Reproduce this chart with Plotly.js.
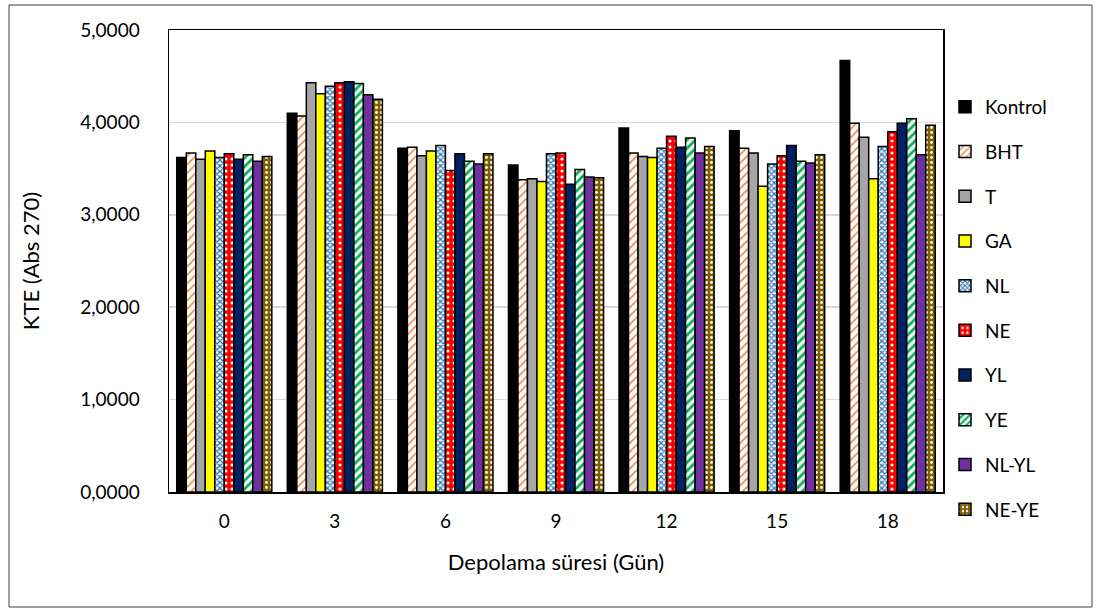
<!DOCTYPE html>
<html>
<head>
<meta charset="utf-8">
<script src="https://cdn.plot.ly/plotly-3.0.1.min.js"></script>
<style>html,body{margin:0;padding:0;background:#fff;}#chart{width:1103px;height:614px;}</style>
</head>
<body>
<div id="chart"></div>
<script>
const categories = ["0", "3", "6", "9", "12", "15", "18"];
const seriesNames = ["Kontrol", "BHT", "T", "GA", "NL", "NE", "YL", "YE", "NL-YL", "NE-YE"];
const kontrol = [3.62, 4.10, 3.72, 3.54, 3.94, 3.91, 4.67];
const bht     = [3.67, 4.07, 3.73, 3.38, 3.67, 3.72, 3.99];
const t       = [3.60, 4.43, 3.64, 3.39, 3.63, 3.67, 3.84];
const ga      = [3.69, 4.31, 3.69, 3.36, 3.62, 3.31, 3.39];
const nl      = [3.62, 4.39, 3.75, 3.66, 3.72, 3.55, 3.74];
const ne      = [3.66, 4.43, 3.48, 3.67, 3.85, 3.64, 3.90];
const yl      = [3.60, 4.44, 3.66, 3.33, 3.73, 3.75, 3.99];
const ye      = [3.65, 4.42, 3.58, 3.49, 3.83, 3.58, 4.04];
const nlyl    = [3.58, 4.30, 3.55, 3.41, 3.67, 3.56, 3.65];
const neye    = [3.63, 4.25, 3.66, 3.40, 3.74, 3.65, 3.97];
const yTicks = [0, 1, 2, 3, 4, 5];

const seriesValues = [kontrol, bht, t, ga, nl, ne, yl, ye, nlyl, neye];
const styles = [
  {color: "#000000"},
  {color: "#FFFFFF", pattern: {shape: "/", fgcolor: "#F08A4B", bgcolor: "#FFFFFF", size: 6, solidity: 0.3}},
  {color: "#A6A6A6"},
  {color: "#FFFF00"},
  {color: "#FFFFFF", pattern: {shape: "x", fgcolor: "#2E75B6", bgcolor: "#FFFFFF", size: 4, solidity: 0.55}},
  {color: "#FF0000", pattern: {shape: ".", fgcolor: "#FFFFFF", bgcolor: "#FF0000", size: 6, solidity: 0.2}},
  {color: "#002060"},
  {color: "#FFFFFF", pattern: {shape: "/", fgcolor: "#00B050", bgcolor: "#FFFFFF", size: 6, solidity: 0.45}},
  {color: "#7030A0"},
  {color: "#7F6000", pattern: {shape: ".", fgcolor: "#FFFFFF", bgcolor: "#7F6000", size: 5, solidity: 0.25}}
];

const traces = seriesNames.map((name, i) => {
  const m = {color: styles[i].color, line: {color: "#000000", width: 1.5}};
  if (styles[i].pattern) m.pattern = styles[i].pattern;
  return {
    type: "bar",
    name: name,
    x: categories,
    y: seriesValues[i],
    marker: m,
    legendgroup: "g" + i
  };
});

const font = "Lato, 'Noto Sans', 'DejaVu Sans', sans-serif";
const L = 169, R = 943, T = 30, B = 492;
const pw = R - L, ph = B - T;

const layout = {
  width: 1103, height: 614,
  margin: {l: L, r: 1103 - R, t: T, b: 614 - B},
  paper_bgcolor: "#FFFFFF",
  plot_bgcolor: "#FFFFFF",
  separators: ",.",
  font: {family: font, size: 19, color: "#000000"},
  barmode: "group",
  bargap: 0.14,
  bargroupgap: 0,
  showlegend: true,
  legend: {
    x: (945 - L) / pw, xanchor: "left",
    y: (B - 88) / ph, yanchor: "top",
    font: {family: font, size: 19, color: "#000000"},
    tracegroupgap: 17,
    itemwidth: 30,
    bgcolor: "rgba(0,0,0,0)"
  },
  xaxis: {
    type: "category",
    title: {text: "Depolama süresi (Gün)", font: {family: font, size: 22}, standoff: 23},
    tickfont: {family: font, size: 19},
    ticks: "",
    ticklabelstandoff: 12,
    showline: true, linecolor: "#000000", linewidth: 1.5, mirror: true,
    showgrid: false, zeroline: false
  },
  yaxis: {
    range: [0, 5],
    tickvals: yTicks,
    tickformat: ".4f",
    title: {text: "KTE (Abs 270)", font: {family: font, size: 22}, standoff: 34},
    tickfont: {family: font, size: 19},
    ticks: "",
    ticklabelstandoff: 24,
    showline: true, linecolor: "#000000", linewidth: 1.5, mirror: true,
    showgrid: true, gridcolor: "#D9D9D9", gridwidth: 1.5,
    zeroline: false
  },
  shapes: [{
    type: "rect", xref: "paper", yref: "paper",
    x0: (9 - L) / pw, x1: (1092 - L) / pw,
    y0: (B - 607) / ph, y1: (B - 5) / ph,
    line: {color: "#404040", width: 1}, fillcolor: "rgba(0,0,0,0)", layer: "below"
  }]
};

Plotly.newPlot("chart", traces, layout, {displayModeBar: false, staticPlot: true});
</script>
</body>
</html>
